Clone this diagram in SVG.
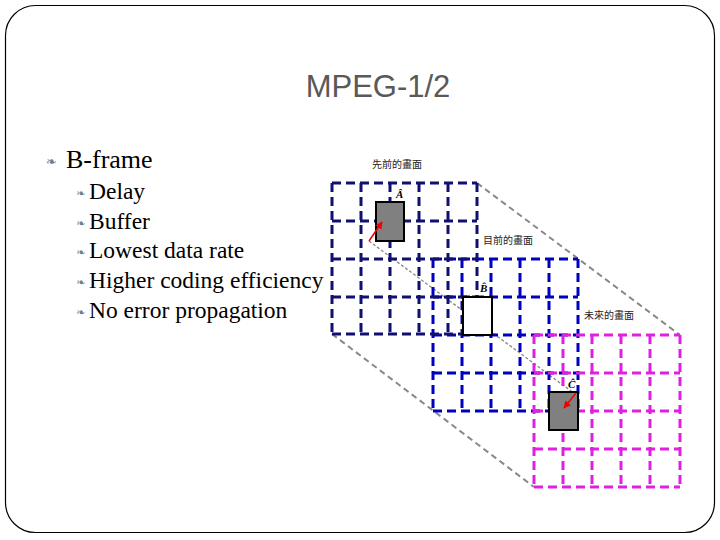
<svg xmlns="http://www.w3.org/2000/svg" width="720" height="540" viewBox="0 0 720 540">
<style>
.t{font-family:"Liberation Serif",serif;fill:#000}
.b{font-family:"DejaVu Sans",sans-serif;fill:#6b7f8f}
.cj{font-family:"Noto Sans CJK TC",sans-serif;font-size:10px;fill:#222}
.lb{font-family:"Liberation Serif",serif;font-style:italic;font-weight:bold;font-size:11px}
.g{fill:none;stroke-width:3;stroke-dasharray:9,5}
</style>
<defs>
<marker id="ar" viewBox="0 0 10 10" refX="9" refY="5" markerWidth="5" markerHeight="5" orient="auto"><path d="M0,0L10,5L0,10z" fill="#e00"/></marker>
</defs>
<rect x="5.5" y="5.5" width="709" height="527" rx="30" fill="#fff" stroke="#000" stroke-width="1.2"/>
<text x="378" y="97" text-anchor="middle" font-family="Liberation Sans,sans-serif" font-size="31" fill="#595959">MPEG-1/2</text>
<g id="bullets">
<text class="b" x="46" y="166" font-size="13">❧</text><text class="t" x="66" y="168" font-size="26">B-frame</text>
<text class="b" x="76" y="197" font-size="11">❧</text><text class="t" x="89" y="199" font-size="23.5">Delay</text>
<text class="b" x="76" y="227" font-size="11">❧</text><text class="t" x="89" y="229" font-size="23.5">Buffer</text>
<text class="b" x="76" y="256" font-size="11">❧</text><text class="t" x="89" y="258" font-size="23.5">Lowest data rate</text>
<text class="b" x="76" y="286" font-size="11">❧</text><text class="t" x="89" y="288" font-size="23.5">Higher coding efficiency</text>
<text class="b" x="76" y="316" font-size="11">❧</text><text class="t" x="89" y="318" font-size="23.5">No error propagation</text>
</g>
<g id="connectors" fill="none" stroke="#888">
<path d="M477,183L680,335M332,334L534,487" stroke-width="2" stroke-dasharray="6,4"/>
<path d="M369,241L575,394" stroke-width="1.3" stroke-dasharray="3,2"/>
</g>
<g id="current" stroke="#0000c0" class="g">
<path d="M433,259H578M433,297H578M433,335H578M433,373H578M433,411H578M433,259V411M462,259V411M491,259V411M520,259V411M549,259V411M578,259V411"/>
</g>
<g id="previous" stroke="#101070" class="g">
<path d="M332,183H477M332,221H477M332,259H477M332,297H477M332,334H477M332,183V334M361,183V334M390,183V334M419,183V334M448,183V334M477,183V334"/>
</g>
<g id="future" stroke="#e020e0" class="g">
<path d="M534,335H680M534,373H680M534,411H680M534,449H680M534,487H680M534,335V487M563,335V487M592,335V487M621,335V487M650,335V487M680,335V487"/>
</g>
<g id="blockA"><rect x="376" y="202" width="28" height="39" fill="#808080" stroke="#000" stroke-width="2"/><text class="lb" x="396" y="198">Â</text></g>
<g id="blockB"><rect x="463" y="297" width="29" height="38" fill="#fff" stroke="#000" stroke-width="2"/><text class="lb" x="480" y="292">B̂</text></g>
<g id="blockC"><rect x="549" y="392" width="29" height="38" fill="#808080" stroke="#000" stroke-width="2"/><text class="lb" x="568" y="388">Ĉ</text></g>
<g id="vectors" stroke="#e00" stroke-width="1.5">
<path d="M369,241L382,222" marker-end="url(#ar)"/>
<path d="M576,393L564,408" marker-end="url(#ar)"/>
</g>
<g id="labels">
<text class="cj" x="372" y="168">先前的畫面</text>
<text class="cj" x="483" y="244">目前的畫面</text>
<text class="cj" x="584" y="319">未來的畫面</text>
</g>
</svg>
